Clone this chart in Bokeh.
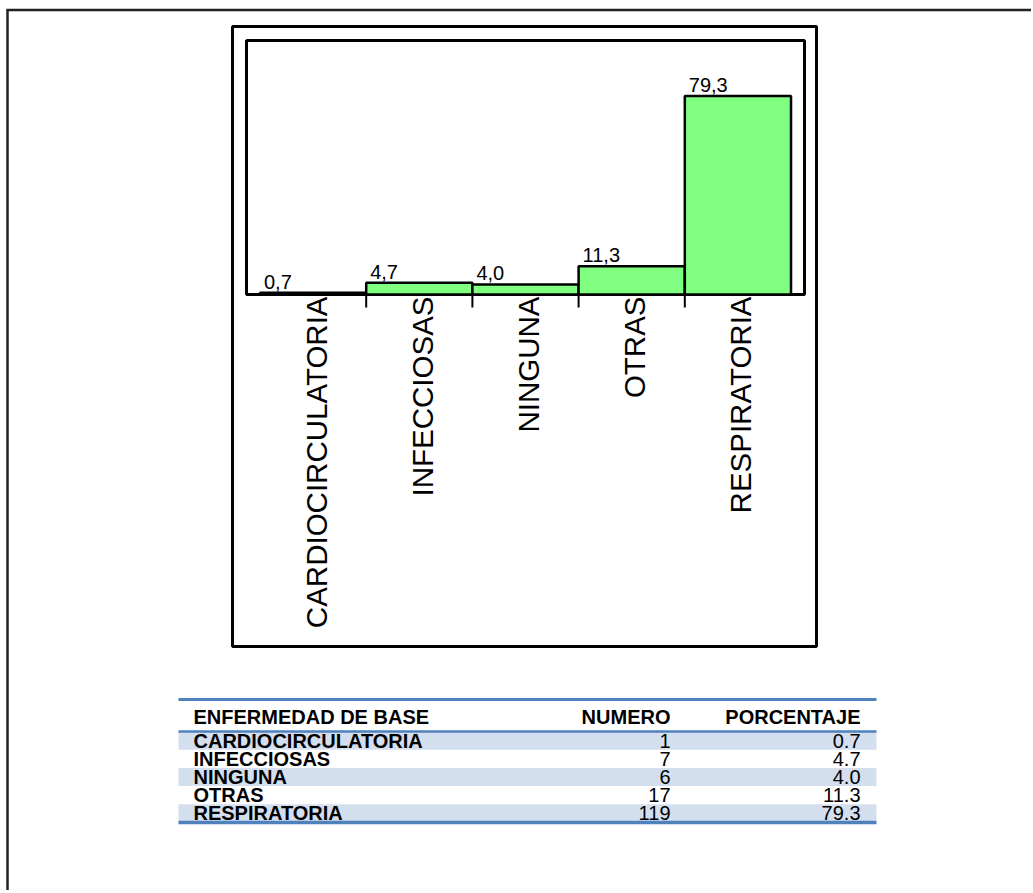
import numpy as np
from bokeh.plotting import figure
from bokeh.models import Range1d, ColumnDataSource
from bokeh.core.properties import value
from bokeh.embed import file_html
from bokeh.resources import INLINE

# ---- data -------------------------------------------------------------
categories = ["CARDIOCIRCULATORIA", "INFECCIOSAS", "NINGUNA", "OTRAS", "RESPIRATORIA"]
counts = [1, 7, 6, 17, 119]
percentages = [0.7, 4.7, 4.0, 11.3, 79.3]
table_headers = ["ENFERMEDAD DE BASE", "NUMERO", "PORCENTAJE"]

# ---- page geometry (pixels) -------------------------------------------
W, H = 1031, 890
FL, FR, FT, FB = 246, 804, 40, 294          # bar-chart plot area
BL, BR, BT, BB = 232, 816, 26, 646          # chart border
Y_MAX = 101.5                                # value at top of plot area
PAD = 0.127                                  # category padding each side
FONT = value("Liberation Sans")

n = len(categories)
idx = np.arange(n)
units_per_px = (n + 2 * PAD) / (FR - FL)
cat_start = -PAD - FL * units_per_px
cat_range = Range1d(cat_start, cat_start + W * units_per_px)
px_per_val = (FB - FT) / Y_MAX
val_range = Range1d(-(H - FB) / px_per_val, FB / px_per_val)

p = figure(width=W, height=H, x_range=Range1d(0, W), y_range=Range1d(H, 0),
           min_border=0, toolbar_location=None, output_backend="svg",
           x_axis_location=None, y_axis_location=None,
           outline_line_color=None, background_fill_color="white",
           border_fill_color="white")
p.xgrid.visible = False
p.ygrid.visible = False
p.extra_x_ranges = {"cat": cat_range}
p.extra_y_ranges = {"val": val_range}

# page frame lines
p.segment(x0=[6, 7], y0=[9.5, 9], x1=[W, 7], y1=[9.5, H],
          line_color="#222222", line_width=2.5)

# chart border and plot-area frame
p.quad(left=[BL, FL], right=[BR, FR], top=[BT, FT], bottom=[BB, FB],
       fill_color=None, line_color="black", line_width=3)

# ---- bars ---------------------------------------------------------------
bars = ColumnDataSource(dict(
    left=idx, right=idx + 1, center=idx + 0.5, top=percentages, cat=categories,
    label=[f"{v:.1f}".replace(".", ",") for v in percentages],
))
p.quad(left="left", right="right", bottom=0, top="top", source=bars,
       x_range_name="cat", y_range_name="val",
       fill_color="#80FF80", line_color="black", line_width=2.5)

p.text(x="left", y="top", text="label", source=bars,
       x_range_name="cat", y_range_name="val",
       x_offset=4, y_offset=-4, text_align="left", text_baseline="bottom",
       text_font=FONT, text_font_size="20px", text_color="black")

# category ticks between bars
bounds = idx[1:]
p.segment(x0=bounds, y0=0, x1=bounds, y1=-13 / px_per_val,
          x_range_name="cat", y_range_name="val",
          line_color="black", line_width=2)

# rotated category labels
p.text(x=idx + 0.5 + 3 * units_per_px, y=-2 / px_per_val, text=categories,
       x_range_name="cat", y_range_name="val", angle=np.pi / 2,
       text_align="right", text_baseline="middle",
       text_font=FONT, text_font_size="29.5px", text_color="black")

# ---- table --------------------------------------------------------------
TL, TR = 178, 876
T_TOP, T_HEAD = 699, 731
ROW_H = 18.2
X_NAME, X_NUM, X_PCT = 193, 670, 860
TFS = "20px"

row_mid = T_HEAD + ROW_H * (idx + 0.5)
shade = idx[::2]
p.quad(left=TL, right=TR, top=T_HEAD + ROW_H * shade,
       bottom=T_HEAD + ROW_H * (shade + 1),
       fill_color="#D3DFEE", line_color=None)

t_bottom = T_HEAD + ROW_H * n
p.segment(x0=TL, x1=TR, y0=[T_TOP, T_HEAD, t_bottom], y1=[T_TOP, T_HEAD, t_bottom],
          line_color="#4F81BD", line_width=[3, 2.5, 3.5])

head_y = (T_TOP + T_HEAD) / 2 + 1
p.text(x=[X_NAME], y=[head_y], text=[table_headers[0]], text_align="left",
       text_baseline="middle", text_font=FONT, text_font_style="bold",
       text_font_size=TFS, text_color="black")
p.text(x=[X_NUM, X_PCT], y=[head_y, head_y], text=table_headers[1:],
       text_align="right", text_baseline="middle", text_font=FONT,
       text_font_style="bold", text_font_size=TFS, text_color="black")

rows = ColumnDataSource(dict(
    y=row_mid, name=categories, num=[str(c) for c in counts],
    pct=[f"{v:.1f}" for v in percentages],
    xn=[X_NAME] * n, xc=[X_NUM] * n, xp=[X_PCT] * n,
))
p.text(x="xn", y="y", text="name", source=rows, text_align="left",
       text_baseline="middle", text_font=FONT, text_font_style="bold",
       text_font_size=TFS, text_color="black")
p.text(x="xc", y="y", text="num", source=rows, text_align="right",
       text_baseline="middle", text_font=FONT, text_font_size=TFS,
       text_color="black")
p.text(x="xp", y="y", text="pct", source=rows, text_align="right",
       text_baseline="middle", text_font=FONT, text_font_size=TFS,
       text_color="black")

open("out.html", "w").write(file_html(p, INLINE))
